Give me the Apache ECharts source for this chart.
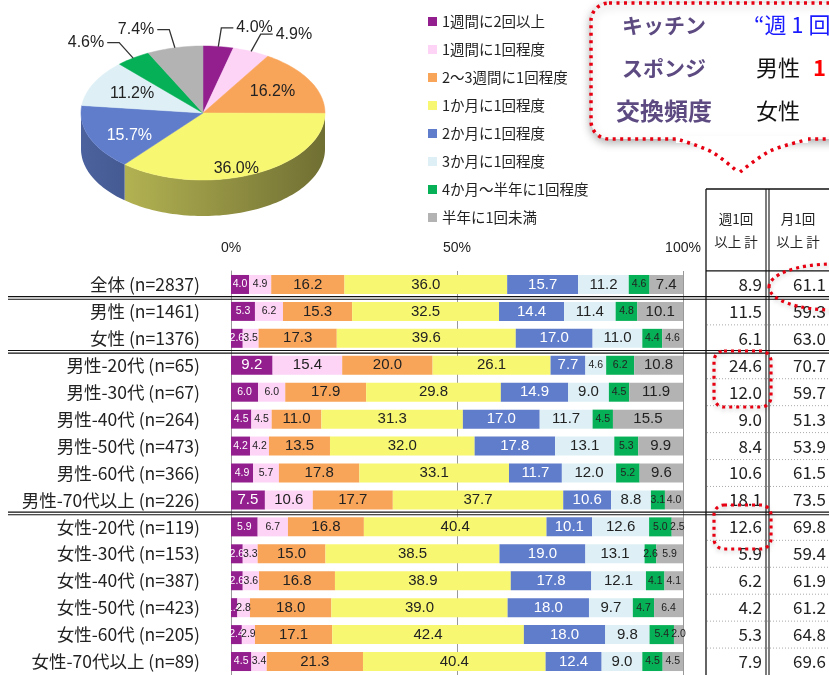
<!DOCTYPE html>
<html>
<head>
<meta charset="utf-8">
<script src="https://cdn.jsdelivr.net/npm/echarts@6/dist/echarts.min.js"></script>
<style>
  html, body { margin: 0; padding: 0; background: #fff; }
  #main { width: 829px; height: 675px; }
</style>
</head>
<body>
<div id="main"></div>
<script>
// 回答者区分
const categories = ['全体 (n=2837)', '男性 (n=1461)', '女性 (n=1376)',
  '男性-20代 (n=65)', '男性-30代 (n=67)', '男性-40代 (n=264)', '男性-50代 (n=473)', '男性-60代 (n=366)', '男性-70代以上 (n=226)',
  '女性-20代 (n=119)', '女性-30代 (n=153)', '女性-40代 (n=387)', '女性-50代 (n=423)', '女性-60代 (n=205)', '女性-70代以上 (n=89)'];
const freqNames = ['1週間に2回以上', '1週間に1回程度', '2〜3週間に1回程度', '1か月に1回程度',
  '2か月に1回程度', '3か月に1回程度', '4か月〜半年に1回程度', '半年に1回未満'];

// 帯グラフの値 (%)
const twiceWeek   = [4.0, 5.3, 2.6, 9.2, 6.0, 4.5, 4.2, 4.9, 7.5, 5.9, 2.6, 2.6, 1.4, 2.4, 4.5];
const onceWeek    = [4.9, 6.2, 3.5, 15.4, 6.0, 4.5, 4.2, 5.7, 10.6, 6.7, 3.3, 3.6, 2.8, 2.9, 3.4];
const twoThreeWk  = [16.2, 15.3, 17.3, 20.0, 17.9, 11.0, 13.5, 17.8, 17.7, 16.8, 15.0, 16.8, 18.0, 17.1, 21.3];
const oneMonth    = [36.0, 32.5, 39.6, 26.1, 29.8, 31.3, 32.0, 33.1, 37.7, 40.4, 38.5, 38.9, 39.0, 42.4, 40.4];
const twoMonth    = [15.7, 14.4, 17.0, 7.7, 14.9, 17.0, 17.8, 11.7, 10.6, 10.1, 19.0, 17.8, 18.0, 18.0, 12.4];
const threeMonth  = [11.2, 11.4, 11.0, 4.6, 9.0, 11.7, 13.1, 12.0, 8.8, 12.6, 13.1, 12.1, 9.7, 9.8, 9.0];
const fourToSix   = [4.6, 4.8, 4.4, 6.2, 4.5, 4.5, 5.3, 5.2, 3.1, 5.0, 2.6, 4.1, 4.7, 5.4, 4.5];
const lessHalfYr  = [7.4, 10.1, 4.6, 10.8, 11.9, 15.5, 9.9, 9.6, 4.0, 2.5, 5.9, 4.1, 6.4, 2.0, 4.5];

// 表の値
const weekTotal  = [8.9, 11.5, 6.1, 24.6, 12.0, 9.0, 8.4, 10.6, 18.1, 12.6, 5.9, 6.2, 4.2, 5.3, 7.9];
const monthTotal = [61.1, 59.3, 63.0, 70.7, 59.7, 51.3, 53.9, 61.5, 73.5, 69.8, 59.4, 61.9, 61.2, 64.8, 69.6];

// 円グラフ (全体)
const pieValues = [4.0, 4.9, 16.2, 36.0, 15.7, 11.2, 4.6, 7.4];

const seriesValues = [twiceWeek, onceWeek, twoThreeWk, oneMonth, twoMonth, threeMonth, fourToSix, lessHalfYr];
const COLORS = ['#931f8f', '#fdd3f6', '#f8a55a', '#f8f772', '#607dcb', '#def0f6', '#06b056', '#b3b3b3'];
const LABEL_COLORS = ['#fff', '#222', '#222', '#222', '#fff', '#222', '#222', '#222'];
const NUM_FONT = '"Liberation Sans", Arial, sans-serif';
const JP_FONT = '"Noto Sans CJK JP", sans-serif';

let chart = echarts.init(document.getElementById('main'));

function darken(hex, k) {
  const n = parseInt(hex.slice(1), 16);
  const r = Math.round(((n >> 16) & 255) * (1 - k));
  const g = Math.round(((n >> 8) & 255) * (1 - k));
  const b = Math.round((n & 255) * (1 - k));
  return 'rgb(' + r + ',' + g + ',' + b + ')';
}

const PIE = { cx: 203, cy: 113, rx: 122, ry: 67, depth: 36 };
function rim(a0, a1, dy) {
  const n = Math.max(2, Math.ceil((a1 - a0) / 0.03));
  const pts = [];
  for (let i = 0; i <= n; i++) {
    const a = a0 + (a1 - a0) * i / n;
    pts.push([PIE.cx + PIE.rx * Math.cos(a), PIE.cy + PIE.ry * Math.sin(a) + dy]);
  }
  return pts;
}

function renderPie(params, api) {
  const i = params.dataIndex;
  const total = pieValues.reduce((s, v) => s + v, 0);
  const before = pieValues.slice(0, i).reduce((s, v) => s + v, 0);
  const v = api.value(0);
  const a0 = -Math.PI / 2 + 2 * Math.PI * before / total;
  const a1 = a0 + 2 * Math.PI * v / total;
  const children = [];
  // 側面 (手前側のみ)
  const s0 = Math.max(a0, 0), s1 = Math.min(a1, Math.PI);
  if (s1 > s0) {
    const pts = rim(s0, s1, 0).concat(rim(s0, s1, PIE.depth).reverse());
    children.push({
      type: 'polygon', z2: 1, shape: { points: pts },
      style: {
        fill: new echarts.graphic.LinearGradient(PIE.cx - PIE.rx, 0, PIE.cx + PIE.rx, 0, [
          { offset: 0, color: darken(COLORS[i], 0.22) },
          { offset: 1, color: darken(COLORS[i], 0.55) }
        ], true)
      }
    });
  }
  // 上面
  children.push({
    type: 'polygon', z2: 10,
    shape: { points: [[PIE.cx, PIE.cy]].concat(rim(a0, a1, 0)) },
    style: { fill: COLORS[i], stroke: COLORS[i], lineWidth: 0.5 }
  });
  const mid = (a0 + a1) / 2;
  const txt = v.toFixed(1) + '%';
  if (v >= 8) {
    let x = PIE.cx + PIE.rx * 0.65 * Math.cos(mid);
    let y = PIE.cy + PIE.ry * 0.65 * Math.sin(mid);
    if (Math.sin(mid) > 0) y += Math.sin(mid) * PIE.depth * 0.5;
    children.push({
      type: 'text', z2: 20, x: x, y: y,
      style: { text: txt, fill: i === 4 ? '#fff' : '#222', font: '16px ' + NUM_FONT, align: 'center', verticalAlign: 'middle' }
    });
  } else {
    const ex = PIE.cx + PIE.rx * Math.cos(mid), ey = PIE.cy + PIE.ry * Math.sin(mid);
    const ox = PIE.cx + PIE.rx * 1.2 * Math.cos(mid), oy = PIE.cy + PIE.ry * 1.28 * Math.sin(mid);
    const dir = Math.cos(mid) >= 0 ? 1 : -1;
    const hx = ox + dir * 12;
    children.push({
      type: 'polyline', z2: 20, shape: { points: [[ex, ey], [ox, oy], [hx, oy]] },
      style: { stroke: '#333', lineWidth: 1.3, fill: null }
    });
    children.push({
      type: 'text', z2: 20, x: hx + dir * 3, y: oy,
      style: { text: txt, fill: '#222', font: '16px ' + NUM_FONT, align: dir > 0 ? 'left' : 'right', verticalAlign: 'middle' }
    });
  }
  return { type: 'group', children: children };
}

const barSeries = freqNames.map((name, k) => ({
  name: name,
  type: 'bar',
  stack: 'all',
  barWidth: 19,
  xAxisIndex: 0,
  yAxisIndex: 0,
  itemStyle: { color: COLORS[k] },
  label: {
    show: true,
    position: 'inside',
    color: LABEL_COLORS[k],
    fontFamily: NUM_FONT,
    formatter: p => p.value.toFixed(1)
  },
  data: seriesValues[k].map(v => ({ value: v, label: { fontSize: v >= 7 ? 15 : 10.5 } }))
}));

const option = {
  animation: false,
  backgroundColor: '#fff',
  legend: {
    data: freqNames,
    orient: 'vertical',
    left: 423,
    top: 9,
    icon: 'rect',
    itemWidth: 9,
    itemHeight: 9,
    itemGap: 13,
    selectedMode: false,
    textStyle: { fontSize: 14.5, lineHeight: 15, color: '#222', fontFamily: JP_FONT }
  },
  grid: { left: 231, top: 271, width: 452, height: 404 },
  xAxis: {
    type: 'value',
    position: 'top',
    min: 0,
    max: 100,
    interval: 50,
    axisLine: { show: false },
    axisTick: { show: false },
    splitLine: { show: true, lineStyle: { color: '#999', width: 1 } },
    axisLabel: { formatter: '{value}%', fontSize: 14, color: '#222', margin: 16, fontFamily: NUM_FONT }
  },
  yAxis: [{
    type: 'category',
    data: categories,
    inverse: true,
    axisLine: { show: true, lineStyle: { color: '#999' } },
    axisTick: { show: false },
    axisLabel: { interval: 0, margin: 31, fontSize: 17.5, color: '#222', fontFamily: JP_FONT }
  }, {
    type: 'category',
    data: weekTotal.map(v => v.toFixed(1)),
    inverse: true,
    position: 'right',
    offset: 82,
    axisLine: { show: false },
    axisTick: { show: false },
    axisLabel: { interval: 0, inside: true, margin: 3, fontSize: 17, color: '#222', fontFamily: JP_FONT }
  }, {
    type: 'category',
    data: monthTotal.map(v => v.toFixed(1)),
    inverse: true,
    position: 'right',
    offset: 146,
    axisLine: { show: false },
    axisTick: { show: false },
    axisLabel: { interval: 0, inside: true, margin: 3, fontSize: 17, color: '#222', fontFamily: JP_FONT }
  }],
  series: barSeries.concat([{
    name: 'pie',
    type: 'custom',
    coordinateSystem: 'none',
    silent: true,
    renderItem: renderPie,
    data: pieValues
  }])
};
chart.setOption(option);

// 区切り線・表・吹き出し
const yOf = i => chart.convertToPixel({ yAxisIndex: 0 }, categories[i]);
const groupBreaks = [0, 2, 8];
const gfx = [];
for (let i = 0; i < categories.length - 1; i++) {
  const y = (yOf(i) + yOf(i + 1)) / 2;
  if (groupBreaks.indexOf(i) >= 0) {
    [-1.3, 1.3].forEach(d => gfx.push({
      type: 'line', z: 10, shape: { x1: 8, y1: y + d, x2: 829, y2: y + d },
      style: { stroke: '#111', lineWidth: 1.1 }
    }));
  } else {
    gfx.push({
      type: 'line', z: 10, shape: { x1: 707, y1: y, x2: 829, y2: y },
      style: { stroke: '#aaa', lineWidth: 1, lineDash: [1, 2] }
    });
  }
}
const tableTop = yOf(0) - 13.5;
// 表の枠
gfx.push(
  { type: 'line', z: 10, shape: { x1: 706, y1: 189, x2: 829, y2: 189 }, style: { stroke: '#111', lineWidth: 1.3 } },
  { type: 'line', z: 10, shape: { x1: 706, y1: tableTop, x2: 829, y2: tableTop }, style: { stroke: '#111', lineWidth: 1.3 } },
  { type: 'line', z: 10, shape: { x1: 706, y1: 189, x2: 706, y2: 675 }, style: { stroke: '#111', lineWidth: 1.3 } },
  { type: 'line', z: 10, shape: { x1: 766, y1: 189, x2: 766, y2: 675 }, style: { stroke: '#111', lineWidth: 1.1 } },
  { type: 'line', z: 10, shape: { x1: 769, y1: 189, x2: 769, y2: 675 }, style: { stroke: '#111', lineWidth: 1.1 } },
  { type: 'text', z: 10, x: 736, y: 230, style: { text: '週1回\n以上 計', font: '13.5px ' + JP_FONT, fill: '#222', align: 'center', verticalAlign: 'middle', lineHeight: 23 } },
  { type: 'text', z: 10, x: 798, y: 230, style: { text: '月1回\n以上 計', font: '13.5px ' + JP_FONT, fill: '#222', align: 'center', verticalAlign: 'middle', lineHeight: 23 } }
);
// 強調の点線
const RED = '#e60012';
const redDot = { stroke: RED, lineWidth: 3.2, lineDash: [3, 4], fill: null, shadowBlur: 4, shadowColor: 'rgba(0,0,0,0.25)', shadowOffsetY: 2 };
gfx.push(
  { type: 'ellipse', z: 20, shape: { cx: 833, cy: 287, rx: 64, ry: 23 }, style: redDot },
  { type: 'rect', z: 20, shape: { x: 714, y: 351, width: 57, height: 56, r: 10 }, style: redDot },
  { type: 'rect', z: 20, shape: { x: 714, y: 505, width: 57, height: 44, r: 10 }, style: redDot }
);
// 吹き出し
gfx.push(
  { type: 'rect', z: 5, shape: { x: 591, y: 3, width: 280, height: 136, r: 18 },
    style: { fill: '#fff', stroke: RED, lineWidth: 3.5, lineDash: [3, 4.5], shadowBlur: 8, shadowColor: 'rgba(0,0,0,0.3)', shadowOffsetY: 3 } },
  { type: 'polygon', z: 6, shape: { points: [[680, 136], [738, 170], [806, 136]] }, style: { fill: '#fff' } },
  { type: 'polygon', z: 6, shape: { points: [[676, 137], [676, 143], [808, 143], [808, 137]] }, style: { fill: '#fff' } },
  { type: 'polyline', z: 7, shape: { points: [[680, 140], [712, 152], [738, 172]], smooth: 0.3 },
    style: { stroke: RED, lineWidth: 3.5, lineDash: [3, 4.5], fill: null } },
  { type: 'polyline', z: 7, shape: { points: [[740, 172], [770, 151], [806, 140]], smooth: 0.3 },
    style: { stroke: RED, lineWidth: 3.5, lineDash: [3, 4.5], fill: null } }
);
const purple = '#5c4a80';
[['キッチン', 25, 21], ['スポンジ', 68, 21], ['交換頻度', 111, 24]].forEach(t => gfx.push({
  type: 'text', z: 8, x: 664, y: t[1],
  style: { text: t[0], font: 'bold ' + t[2] + 'px ' + JP_FONT, fill: purple, align: 'center', verticalAlign: 'middle' }
}));
gfx.push(
  { type: 'text', z: 8, x: 754, y: 25, style: { text: '“週 1 回', font: '22px ' + JP_FONT, fill: '#1a1aff', verticalAlign: 'middle' } },
  { type: 'text', z: 8, x: 756, y: 68, style: { text: '男性', font: '22px ' + JP_FONT, fill: '#111', verticalAlign: 'middle' } },
  { type: 'text', z: 8, x: 813, y: 68, style: { text: '1', font: 'bold 22px ' + JP_FONT, fill: '#ff0000', verticalAlign: 'middle' } },
  { type: 'text', z: 8, x: 756, y: 111, style: { text: '女性', font: '22px ' + JP_FONT, fill: '#111', verticalAlign: 'middle' } }
);
chart.setOption({ graphic: gfx });
</script>
</body>
</html>
